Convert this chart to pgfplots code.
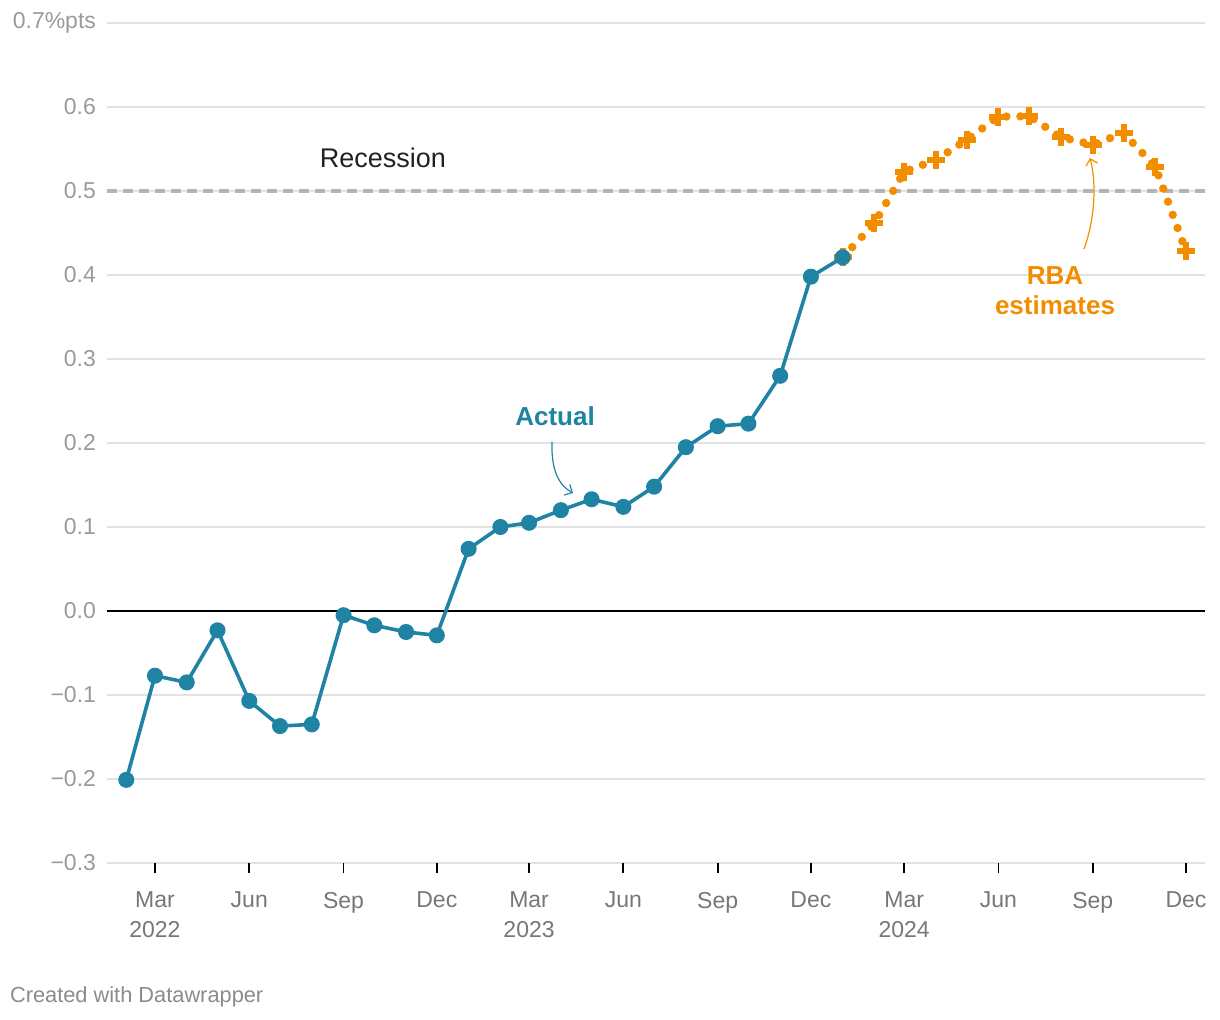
\documentclass[border=0pt]{standalone}
\usepackage{fontspec}
\setmainfont{Liberation Sans}
\usepackage{pgfplots}
\pgfplotsset{compat=1.18}
\usetikzlibrary{arrows.meta}
\definecolor{teal1}{HTML}{1F83A3}
\definecolor{orng}{HTML}{F38D00}
\definecolor{gridc}{HTML}{E2E2E2}
\definecolor{ylab}{HTML}{9A9A9A}
\definecolor{xlab}{HTML}{777777}
\definecolor{recc}{HTML}{B5B5B5}
\begin{document}
\begin{tikzpicture}
\useasboundingbox (0,0) rectangle (610pt,-510pt);
\begin{axis}[
  at={(53.5pt,-431.5pt)}, anchor=south west,
  scale only axis, width=549pt, height=420pt,
  xmin=-18.8, xmax=1052.5, ymin=-0.3, ymax=0.7,
  clip=false,
  axis line style={draw=none},
  xtick={28,120,212,303,393,485,577,668,759,851,943,1034},
  xticklabels={Mar\\2022,Jun,Sep,Dec,Mar\\2023,Jun,Sep,Dec,Mar\\2024,Jun,Sep,Dec},
  xtick pos=bottom, tick align=outside, major tick length=5pt,
  xtick style={black, line width=0.9pt},
  xticklabel style={align=center, font=\fontsize{11.5}{15}\selectfont, text=xlab, yshift=-6pt},
  ytick={-0.3,-0.2,-0.1,0,0.1,0.2,0.3,0.4,0.5,0.6,0.7},
  yticklabels={−0.3,−0.2,−0.1,0.0,0.1,0.2,0.3,0.4,0.5,0.6,0.7\%pts},
  ytick style={draw=none},
  yticklabel style={font=\fontsize{11.5}{13}\selectfont, text=ylab, anchor=east, xshift=3pt},
  ymajorgrids, grid style={gridc, line width=0.7pt},
]
\draw[recc, line width=1.6pt, dash pattern=on 5pt off 3pt] (axis cs:-18.8,0.5) -- (axis cs:1052.5,0.5);
\draw[black, line width=1pt] (axis cs:-18.8,0) -- (axis cs:1052.5,0);
\addplot[orng, line width=4.2pt, line cap=round, dash pattern=on 0pt off 7pt,
  mark=+, mark size=4.5pt, mark options={solid, line width=3pt, line cap=butt}]
  coordinates {
  (699,0.421) (730,0.4615) (759,0.523) (790,0.537) (820,0.561) (851,0.5885)
  (881,0.589) (912,0.564) (943,0.555) (973,0.569) (1004,0.529) (1034,0.428)
  };
\addplot[teal1, line width=1.8pt, mark=*, mark size=3.1pt, mark options={solid, fill=teal1, draw=teal1}]
  coordinates {
  (0,-0.201) (28,-0.077) (59,-0.085) (89,-0.023) (120,-0.107) (150,-0.137)
  (181,-0.135) (212,-0.005) (242,-0.017) (273,-0.025) (303,-0.029) (334,0.074)
  (365,0.100) (393,0.105) (424,0.120) (454,0.133) (485,0.124) (515,0.148)
  (546,0.195) (577,0.220) (607,0.223) (638,0.280) (668,0.398) (699,0.421)
  };
\end{axis}
\node[font=\fontsize{13.5}{15}\selectfont, text=black!87] at (191.5pt,-79pt) {Recession};
\node[font=\fontsize{13}{15}\selectfont\bfseries, text=teal1] at (277.5pt,-208pt) {Actual};
\draw[teal1, line width=0.6pt, -{Straight Barb[length=3pt,width=6pt]}] (276pt,-221pt) .. controls (275.5pt,-236pt) and (280pt,-243pt) .. (286.5pt,-246.5pt);
\node[font=\fontsize{13}{15}\selectfont\bfseries, text=orng, anchor=base] at (527.5pt,-142.3pt) {RBA};
\node[font=\fontsize{13}{15}\selectfont\bfseries, text=orng, anchor=base] at (527.5pt,-157.4pt) {estimates};
\draw[orng, line width=0.6pt, -{Straight Barb[length=3pt,width=6pt]}] (542pt,-124.5pt) .. controls (548pt,-108pt) and (548pt,-90pt) .. (545pt,-79pt);
\node[font=\fontsize{10.9}{13}\selectfont, text=xlab!85, anchor=west] at (1.5pt,-498.5pt) {Created with Datawrapper};
\end{tikzpicture}
\end{document}
